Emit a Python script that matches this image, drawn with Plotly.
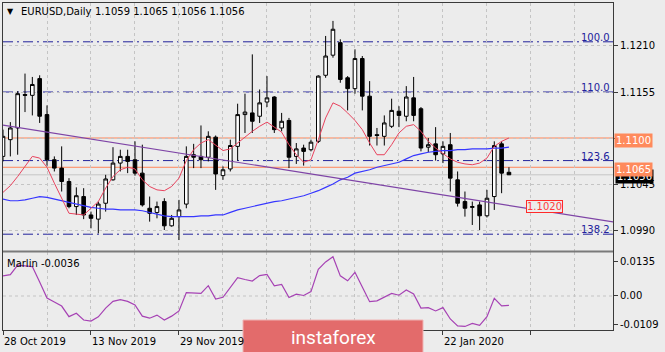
import plotly.graph_objects as go

# ---------------- data ----------------
dates = ["28 Oct 2019", "13 Nov 2019", "29 Nov 2019", "22 Jan 2020"]
date_idx = [0, 12, 24, 60]

opens = [1.1078, 1.1098, 1.1112, 1.1152, 1.1151, 1.1171, 1.1128, 1.1074, 1.1064, 1.1048,
         1.1018, 1.1030, 1.1008, 1.1003, 1.1022, 1.1050, 1.1070, 1.1078, 1.1074, 1.1058,
         1.1016, 1.1011, 1.1024, 1.0995, 1.1006, 1.1021, 1.1080, 1.1078, 1.1077, 1.1101,
         1.1055, 1.1063, 1.1090, 1.1128, 1.1130, 1.1126, 1.1143, 1.1149, 1.1112, 1.1121,
         1.1078, 1.1088, 1.1086, 1.1096, 1.1175, 1.1199, 1.1214, 1.1172, 1.1159, 1.1195,
         1.1150, 1.1104, 1.1102, 1.1114, 1.1132, 1.1126, 1.1148, 1.1135, 1.1089, 1.1093,
         1.1081, 1.1092, 1.1050, 1.1024, 1.1017, 1.1020, 1.1007, 1.1030, 1.1093, 1.1059]
highs = [1.1110, 1.1119, 1.1156, 1.1177, 1.1173, 1.1175, 1.1139, 1.1078, 1.1090, 1.1052,
         1.1041, 1.1040, 1.1012, 1.1024, 1.1056, 1.1089, 1.1086, 1.1086, 1.1096, 1.1092,
         1.1030, 1.1024, 1.1028, 1.1008, 1.1026, 1.1090, 1.1093, 1.1115, 1.1108, 1.1103,
         1.1066, 1.1098, 1.1141, 1.1153, 1.1200, 1.1158, 1.1174, 1.1150, 1.1130, 1.1124,
         1.1094, 1.1092, 1.1098, 1.1175, 1.1222, 1.1240, 1.1218, 1.1174, 1.1206, 1.1198,
         1.1168, 1.1112, 1.1127, 1.1147, 1.1138, 1.1162, 1.1173, 1.1137, 1.1100, 1.1113,
         1.1096, 1.1106, 1.1060, 1.1036, 1.1024, 1.1024, 1.1038, 1.1096, 1.1096, 1.1065]
lows = [1.1072, 1.1078, 1.1080, 1.1131, 1.1127, 1.1118, 1.1067, 1.1060, 1.1036, 1.1016,
        1.1008, 1.1003, 1.0992, 1.0986, 1.1012, 1.1049, 1.1060, 1.1058, 1.1055, 1.1018,
        1.1000, 1.1004, 1.0990, 1.0994, 1.0978, 1.1016, 1.1064, 1.1064, 1.1072, 1.1038,
        1.1050, 1.1060, 1.1073, 1.1106, 1.1106, 1.1118, 1.1137, 1.1106, 1.1108, 1.1064,
        1.1069, 1.1067, 1.1084, 1.1094, 1.1172, 1.1196, 1.1166, 1.1133, 1.1153, 1.1133,
        1.1091, 1.1091, 1.1091, 1.1112, 1.1113, 1.1120, 1.1120, 1.1084, 1.1083, 1.1073,
        1.1070, 1.1036, 1.1018, 1.1006, 1.0996, 1.0990, 1.1005, 1.1014, 1.1034, 1.1056]
closes = [1.1102, 1.1112, 1.1153, 1.1151, 1.1164, 1.1126, 1.1074, 1.1064, 1.1048, 1.1018,
          1.1031, 1.1008, 1.1004, 1.1021, 1.1051, 1.1070, 1.1078, 1.1072, 1.1058, 1.1020,
          1.1010, 1.1018, 1.0995, 1.1004, 1.1014, 1.1078, 1.1077, 1.1074, 1.1102, 1.1057,
          1.1062, 1.1091, 1.1128, 1.1131, 1.1120, 1.1142, 1.1148, 1.1110, 1.1120, 1.1077,
          1.1087, 1.1084, 1.1095, 1.1174, 1.1198, 1.1230, 1.1170, 1.1159, 1.1195, 1.1150,
          1.1102, 1.1103, 1.1118, 1.1133, 1.1127, 1.1149, 1.1127, 1.1088, 1.1092, 1.1080,
          1.1090, 1.1052, 1.1022, 1.1016, 1.1018, 1.1007, 1.1028, 1.1091, 1.1058, 1.1056]

ma_red = [1.1035, 1.1043, 1.1054, 1.1066, 1.1078, 1.1076, 1.1065, 1.1046, 1.1027, 1.1010,
          1.1009, 1.1008, 1.1016, 1.1024, 1.1040, 1.1054, 1.1062, 1.1065, 1.1063, 1.1050,
          1.1042, 1.1038, 1.1037, 1.1042, 1.1052, 1.1073, 1.1086, 1.1094, 1.1098, 1.1092,
          1.1085, 1.1087, 1.1094, 1.1102, 1.1108, 1.1114, 1.1119, 1.1113, 1.1107, 1.1092,
          1.1080, 1.1071, 1.1074, 1.1098, 1.1124, 1.1142, 1.1138, 1.1130, 1.1121, 1.1110,
          1.1094, 1.1080, 1.1080, 1.1092, 1.1106, 1.1114, 1.1116, 1.1108, 1.1096, 1.1088,
          1.1082, 1.1075, 1.1071, 1.1069, 1.1068, 1.1070, 1.1076, 1.1090, 1.1096, 1.1100]
ma_blue = [1.1027, 1.1025, 1.1025, 1.1026, 1.1028, 1.1030, 1.1029, 1.1027, 1.1025, 1.1023,
           1.1021, 1.1019, 1.1017, 1.1016, 1.1015, 1.1015, 1.1014, 1.1014, 1.1014, 1.1013,
           1.1011, 1.1009, 1.1007, 1.1006, 1.1006, 1.1006, 1.1006, 1.1007, 1.1007, 1.1008,
           1.1008, 1.1011, 1.1014, 1.1016, 1.1018, 1.1020, 1.1022, 1.1024, 1.1025, 1.1027,
           1.1029, 1.1031, 1.1034, 1.1037, 1.1041, 1.1045, 1.1050, 1.1053, 1.1058, 1.1060,
           1.1062, 1.1065, 1.1067, 1.1069, 1.1071, 1.1075, 1.1079, 1.1081, 1.1083, 1.1084,
           1.1085, 1.1085, 1.1086, 1.1086, 1.1087, 1.1087, 1.1087, 1.1088, 1.1088, 1.1089]

marlin = [0.0078, 0.0083, 0.0120, 0.0118, 0.0114, 0.0054, -0.0008, -0.0023, -0.0039, -0.0080,
          -0.0067, -0.0093, -0.0097, -0.0081, -0.0047, -0.0021, -0.0014, -0.0021, -0.0035, -0.0078,
          -0.0086, -0.0074, -0.0093, -0.0078, -0.0058, 0.0013, 0.0012, 0.0010, 0.0040, -0.0012,
          -0.0005, 0.0033, 0.0071, 0.0064, 0.0058, 0.0079, 0.0084, 0.0039, 0.0045, -0.0006,
          0.0007, 0.0002, 0.0017, 0.0103, 0.0132, 0.0152, 0.0078, 0.0059, 0.0092, 0.0035,
          -0.0022, -0.0019, -0.0004, 0.0010, 0.0003, 0.0023, 0.0008, -0.0047, -0.0045, -0.0058,
          -0.0045, -0.0089, -0.0116, -0.0118, -0.0106, -0.0114, -0.0080, -0.0009, -0.0038, -0.0036]

trend_x = [0, 83.2]
trend_y = [1.11155, 1.09996]

fib_names = ["100.0", "110.0", "123.6", "138.2"]
fib_levels = [1.1215, 1.1155, 1.1073, 1.0985]
orange_levels = [1.1100, 1.1065]
orange_text = ["1.1100", "1.1065"]
last_price = 1.1056
price_ticks = [1.0990, 1.1045, 1.1100, 1.1155, 1.1210]
price_ticktext = ["1.0990", "1.1045", "", "1.1155", "1.1210"]
marlin_ticks = [-0.0109, 0.0, 0.0135]
marlin_ticktext = ["-0.0109", "0.00", "0.0135"]

idx = list(range(len(closes)))

# ---------------- geometry helpers (pixels -> paper) ----------------
L, R, T, B = 3, 52, 3, 22
W, H = 665, 352
PW, PH = W - L - R, H - T - B


def px(xp):
    return (xp - L) / PW


def py(yp):
    return (H - B - yp) / PH


BG = "#ececec"
FONT = "DejaVu Sans"
GRID = "#c4c4c4"
FRAME = "#3a3a3a"

fig = go.Figure()

fig.add_trace(go.Candlestick(
    x=idx, open=opens, high=highs, low=lows, close=closes,
    increasing=dict(line=dict(color="#000000", width=1), fillcolor="#ffffff"),
    decreasing=dict(line=dict(color="#000000", width=1), fillcolor="#000000"),
    whiskerwidth=0, xaxis="x", yaxis="y", showlegend=False, hoverinfo="skip"))

fig.add_trace(go.Scatter(x=idx, y=ma_blue, mode="lines",
                         line=dict(color="#3636ff", width=1.2), xaxis="x", yaxis="y",
                         showlegend=False, hoverinfo="skip"))
fig.add_trace(go.Scatter(x=idx, y=ma_red, mode="lines",
                         line=dict(color="#e8435e", width=1), xaxis="x", yaxis="y",
                         showlegend=False, hoverinfo="skip"))
fig.add_trace(go.Scatter(x=trend_x, y=trend_y, mode="lines",
                         line=dict(color="#7e44a6", width=1.2), xaxis="x", yaxis="y",
                         showlegend=False, hoverinfo="skip"))
fig.add_trace(go.Scatter(x=idx, y=marlin, mode="lines",
                         line=dict(color="#a642b4", width=1.2), xaxis="x2", yaxis="y2",
                         showlegend=False, hoverinfo="skip"))

shapes = []
# current price line
shapes.append(dict(type="line", xref="paper", yref="y", x0=0, x1=1, y0=last_price, y1=last_price,
                   line=dict(color="#c6c6c6", width=1), layer="between"))
# fib levels
for lv in fib_levels:
    shapes.append(dict(type="line", xref="paper", yref="y", x0=0, x1=1, y0=lv, y1=lv,
                       line=dict(color="#22229c", width=1, dash="10px,4px,2px,4px"), layer="between"))
# orange levels
for lv in orange_levels:
    shapes.append(dict(type="line", xref="paper", yref="y", x0=0, x1=1, y0=lv, y1=lv,
                       line=dict(color="#ff8559", width=1), layer="between"))
# zero line in lower panel
shapes.append(dict(type="line", xref="paper", yref="y2", x0=0, x1=1, y0=0, y1=0,
                   line=dict(color=GRID, width=1, dash="3px,3px"), layer="below"))
# panel separator
shapes.append(dict(type="line", xref="paper", yref="paper", x0=0, x1=1, y0=py(251.5), y1=py(251.5),
                   line=dict(color="#7a7a7a", width=2), layer="above"))
# logo box
shapes.append(dict(type="rect", xref="paper", yref="paper", x0=px(243), x1=px(423),
                   y0=py(354), y1=py(320), fillcolor="#e36b6b",
                   line=dict(color="#f0b4b4", width=1), layer="above"))

ann = []
ann.append(dict(text="▼", x=px(5), y=py(12), xref="paper", yref="paper", xanchor="left",
                yanchor="middle", showarrow=False, font=dict(family=FONT, size=8, color="#000")))
ann.append(dict(text="EURUSD,Daily", x=px(19), y=py(12), xref="paper", yref="paper",
                xanchor="left", yanchor="middle", showarrow=False,
                font=dict(family=FONT, size=10, color="#000")))
ann.append(dict(text="1.1059 1.1065 1.1056 1.1056", x=px(93), y=py(12), xref="paper",
                yref="paper", xanchor="left", yanchor="middle", showarrow=False,
                font=dict(family=FONT, size=10, color="#000")))
ann.append(dict(text="Marlin -0.0036", x=px(5), y=py(263), xref="paper", yref="paper",
                xanchor="left", yanchor="middle", showarrow=False,
                font=dict(family=FONT, size=10, color="#000")))
for name, lv in zip(fib_names, fib_levels):
    ann.append(dict(text=name, x=px(612), y=lv, xref="paper", yref="y", xanchor="right",
                    yanchor="bottom", yshift=-3, showarrow=False,
                    font=dict(family=FONT, size=10, color="#22229c")))
# price labels on the right
ann.append(dict(text="1.1056", x=px(615), y=last_price, xref="paper", yref="y", xanchor="left",
                yanchor="middle", yshift=-2, showarrow=False, bgcolor="#000000", borderpad=1,
                font=dict(family=FONT, size=10, color="#ffffff")))
for t, lv in zip(orange_text, orange_levels):
    ann.append(dict(text=t, x=px(614), y=lv, xref="paper", yref="y", xanchor="left",
                    yanchor="middle", yshift=-2, showarrow=False, bgcolor="#ff8a5c",
                    borderpad=1, font=dict(family=FONT, size=10, color="#ffffff")))
# trendline label
ann.append(dict(text="1.1020", x=px(544), y=py(206), xref="paper", yref="paper",
                xanchor="center", yanchor="middle", showarrow=False, bgcolor=BG,
                bordercolor="#ff2a2a", borderwidth=1, borderpad=0,
                font=dict(family=FONT, size=10, color="#ff3c3c")))
# date labels
for d, i in zip(dates, date_idx):
    ann.append(dict(text=d, x=i, y=py(341), xref="x2", yref="paper", xanchor="left",
                    yanchor="middle", xshift=-1, showarrow=False,
                    font=dict(family=FONT, size=10, color="#000")))
# logo text
ann.append(dict(text="instaforex", x=px(333), y=py(337), xref="paper", yref="paper",
                xanchor="center", yanchor="middle", showarrow=False,
                font=dict(family="Roboto", size=19, color="#ffffff")))

xrange = [0, 83.19]
main_dom = [py(251), 1]
low_dom = [0, py(252)]

fig.update_layout(
    width=W, height=H, margin=dict(l=L, r=R, t=T, b=B),
    paper_bgcolor=BG, plot_bgcolor=BG, showlegend=False,
    font=dict(family=FONT, size=10, color="#000"),
    xaxis=dict(domain=[0, 1], range=xrange, anchor="y", showline=True, mirror=True,
               linecolor=FRAME, linewidth=1, showticklabels=False, ticks="",
               tickmode="linear", tick0=0, dtick=12, showgrid=True, gridcolor=GRID,
               griddash="3px,3px", gridwidth=1, zeroline=False,
               minor=dict(tick0=0, dtick=6, showgrid=True, gridcolor=GRID, griddash="3px,3px"),
               rangeslider=dict(visible=False), fixedrange=True),
    xaxis2=dict(domain=[0, 1], range=xrange, anchor="y2", matches="x", showline=True,
                mirror=True, linecolor=FRAME, linewidth=1, showticklabels=False,
                ticks="outside", ticklen=4, tickcolor=FRAME, tickmode="linear", tick0=0,
                dtick=12, showgrid=True, gridcolor=GRID, griddash="3px,3px", zeroline=False,
                minor=dict(tick0=0, dtick=6, showgrid=True, gridcolor=GRID, griddash="3px,3px")),
    yaxis=dict(domain=main_dom, range=[1.09649, 1.12614], anchor="x", side="right",
               tickmode="array", tickvals=price_ticks,
               ticktext=price_ticktext, ticks="outside", ticklen=4,
               tickcolor=FRAME, showline=True, mirror=True, linecolor=FRAME, linewidth=1,
               showgrid=True, gridcolor=GRID, griddash="3px,3px", zeroline=False,
               tickfont=dict(family=FONT, size=10, color="#000")),
    yaxis2=dict(domain=low_dom, range=[-0.01318, 0.01705], anchor="x2", side="right",
                tickmode="array", tickvals=marlin_ticks, ticktext=marlin_ticktext,
                ticks="outside", ticklen=4, tickcolor=FRAME, showline=True, mirror=True,
                linecolor=FRAME, linewidth=1, showgrid=False, zeroline=False,
                tickfont=dict(family=FONT, size=10, color="#000")),
    shapes=shapes, annotations=ann,
)

fig.write_html("out.html")
